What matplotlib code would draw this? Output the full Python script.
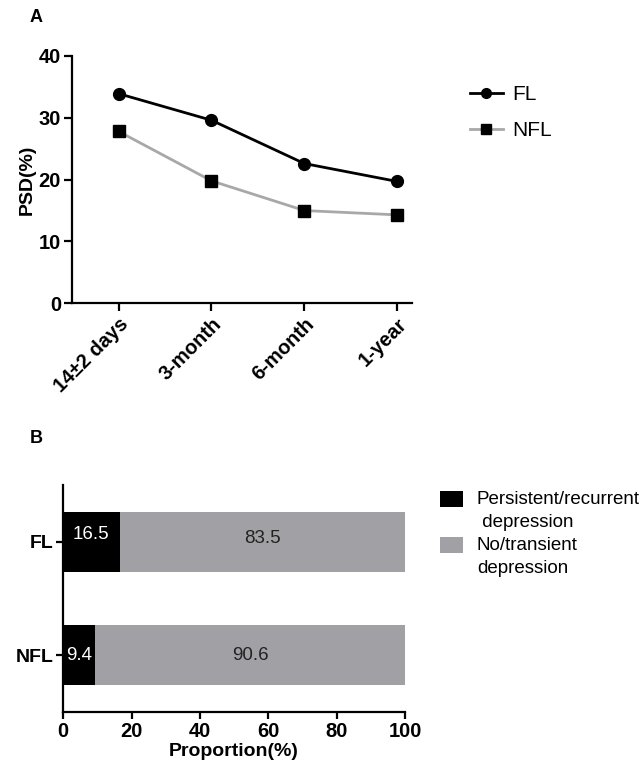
import matplotlib
matplotlib.use("Agg")
import matplotlib.pyplot as plt
from matplotlib.patches import Rectangle
from matplotlib.lines import Line2D

plt.rcParams['font.family'] = ['Liberation Sans', 'DejaVu Sans']

# --- data ---
timepoints = ['14±2 days', '3-month', '6-month', '1-year']
fl_psd = [33.9, 29.6, 22.6, 19.7]
nfl_psd = [27.8, 19.8, 15.0, 14.3]

groups = ['NFL', 'FL']
persistent = [9.4, 16.5]
transient = [90.6, 83.5]
legend_b = ['Persistent/recurrent\n depression', 'No/transient\ndepression']

BLACK = '#000000'
GREY = '#A1A1A5'
LINE_GREY = '#A8A8A8'

fig = plt.figure(figsize=(6.44, 7.66), dpi=100)

# ---------------- Panel A ----------------
axA = fig.add_axes([0.112, 0.604, 0.528, 0.323])
x = list(range(len(timepoints)))
axA.plot(x, fl_psd, color=BLACK, lw=2, marker='o', ms=8.5, label='FL', clip_on=False)
axA.plot(x, nfl_psd, color=LINE_GREY, lw=2, marker='s', ms=8.5, mfc=BLACK, mec=BLACK,
         label='NFL', clip_on=False)
axA.set_xlim(-0.5, 3.16)
axA.set_ylim(0, 40)
axA.set_yticks([0, 10, 20, 30, 40])
axA.set_xticks(x)
axA.set_xticklabels(timepoints, rotation=45, ha='right', rotation_mode='anchor',
                    fontsize=14.5, fontweight='bold')
for lab in axA.get_yticklabels():
    lab.set_fontsize(14.5)
    lab.set_fontweight('bold')
axA.set_ylabel('PSD(%)', fontsize=14, fontweight='bold', labelpad=2)
for s in ['top', 'right']:
    axA.spines[s].set_visible(False)
for s in ['left', 'bottom']:
    axA.spines[s].set_linewidth(1.6)
axA.tick_params(width=1.6, length=6, pad=2)

handles = [Line2D([], [], color=BLACK, lw=2, marker='o', ms=7),
           Line2D([], [], color=LINE_GREY, lw=2, marker='s', ms=7, mfc=BLACK, mec=BLACK)]
fig.legend(handles, ['FL', 'NFL'], loc='upper left', bbox_to_anchor=(0.7, 0.913),
           frameon=False, fontsize=15, handlelength=1.6, labelspacing=0.8,
           handletextpad=0.45)

fig.text(0.046, 0.977, 'A', fontsize=13, fontweight='bold', va='center')

# ---------------- Panel B ----------------
axB = fig.add_axes([0.098, 0.0705, 0.531, 0.2965])
y = list(range(len(groups)))
axB.barh(y, persistent, height=0.53, color=BLACK)
axB.barh(y, transient, left=persistent, height=0.53, color=GREY)
for yi, p, t in zip(y, persistent, transient):
    dy = 0.06 if groups[yi] == 'FL' else 0.0
    axB.text(p / 2, yi + dy, f'{p}', color='white', ha='center', va='center',
             fontsize=13.5)
    axB.text(p + t / 2, yi + dy / 2, f'{t}', color='#222222', ha='center', va='center',
             fontsize=13.5)
axB.set_xlim(0, 100)
axB.set_ylim(-0.5, 1.5)
axB.set_xticks([0, 20, 40, 60, 80, 100])
axB.set_yticks(y)
axB.set_yticklabels(groups, fontsize=14, fontweight='bold')
for lab in axB.get_xticklabels():
    lab.set_fontsize(14.5)
    lab.set_fontweight('bold')
axB.set_xlabel('Proportion(%)', fontsize=14, fontweight='bold', labelpad=2)
for s in ['top', 'right']:
    axB.spines[s].set_visible(False)
for s in ['left', 'bottom']:
    axB.spines[s].set_linewidth(1.6)
axB.tick_params(width=1.6, length=5, pad=2)

# legend for panel B: swatch aligned with the first text line
for i, (col, lab) in enumerate(zip([BLACK, GREY], legend_b)):
    top = 1 - (491 + i * 46) / 766
    fig.patches.append(Rectangle((440 / 644, top - 16 / 766), 23 / 644, 16 / 766,
                                 transform=fig.transFigure, facecolor=col,
                                 edgecolor='none'))
    fig.text(477 / 644, top, lab, fontsize=13.5, va='top', ha='left',
             linespacing=1.45)

fig.text(0.046, 0.428, 'B', fontsize=13, fontweight='bold', va='center')

fig.savefig('out.png', dpi=100)
